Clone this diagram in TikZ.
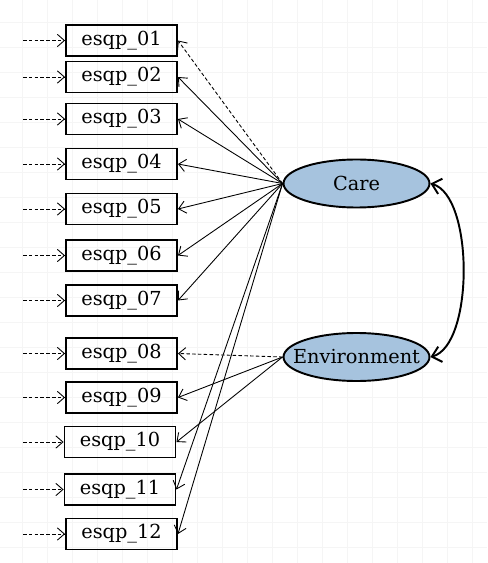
\documentclass[tikz,border=0pt]{standalone}
\usepackage{fontspec}
\setmainfont{DejaVu Serif}
\usetikzlibrary{shapes.geometric,arrows.meta}
\definecolor{latentblue}{RGB}{166,195,222}

\begin{document}
\begin{tikzpicture}[x=0.02cm, y=-0.02cm, font=\fontsize{11}{13}\selectfont,
  >={Straight Barb[length=4pt,width=7pt]},
  gridline/.style={line width=0.5pt, black!4},
  item/.style={draw, line width=1.1pt, rectangle, minimum width=2.22cm, minimum height=0.62cm, inner sep=0pt},
  latent/.style={draw, line width=1.1pt, ellipse, fill=latentblue, minimum width=2.92cm, minimum height=0.96cm, inner sep=0pt},
  err/.style={->, dash pattern=on 2pt off 1.3pt, line width=0.5pt},
  load/.style={->, line width=0.5pt},
  fixload/.style={->, dash pattern=on 2pt off 1.3pt, line width=0.5pt}]
\useasboundingbox (0,0) rectangle (487,563);
\foreach \g in {22,47,...,472} \draw[gridline] (\g,0) -- (\g,563);
\foreach \g in {22,47,...,547} \draw[gridline] (0,\g) -- (487,\g);
% observed items
\node[item] (e01) at (121.5,40.5) {esqp\_01}; \node[item] (e02) at (121.5,77) {esqp\_02}; \node[item] (e03) at (121.5,119) {esqp\_03};
\node[item] (e04) at (121.5,164) {esqp\_04}; \node[item] (e05) at (121.5,209) {esqp\_05}; \node[item] (e06) at (121.5,255.5) {esqp\_06};
\node[item] (e07) at (121.5,300.5) {esqp\_07}; \node[item] (e08) at (121.5,353.5) {esqp\_08}; \node[item] (e09) at (121.5,397.5) {esqp\_09};
\node[item] (e10) at (120,442) {esqp\_10}; \node[item] (e11) at (120,489.5) {esqp\_11}; \node[item] (e12) at (121.5,534) {esqp\_12};
% latent factors
\node[latent, label={center:Care}] (care) at (356.5,183.5) {}; \node[latent, label={center:Environment}] (env) at (356.5,357) {};
% error terms
\foreach \i in {01,02,03,04,05,06,07,08,09,10,11,12} {\coordinate (d\i) at (23,0 |- e\i.west); \draw[err] (d\i) -- (e\i.west);}
% loadings
\draw[fixload] (care.west) -- (e01.east); \draw[load] (care.west) -- (e02.east); \draw[load] (care.west) -- (e03.east);
\draw[load] (care.west) -- (e04.east); \draw[load] (care.west) -- (e05.east); \draw[load] (care.west) -- (e06.east);
\draw[load] (care.west) -- (e07.east); \draw[load] (care.west) -- (e11.east); \draw[load] (care.west) -- (e12.east);
\draw[fixload] (env.west) -- (e08.east); \draw[load] (env.west) -- (e09.east); \draw[load] (env.west) -- (e10.east);
% covariance
\draw[<->, line width=1.1pt, >={Straight Barb[length=5pt,width=9pt]}] (care.east) .. controls (474,196) and (474,345) .. (env.east);
\end{tikzpicture}
\end{document}
